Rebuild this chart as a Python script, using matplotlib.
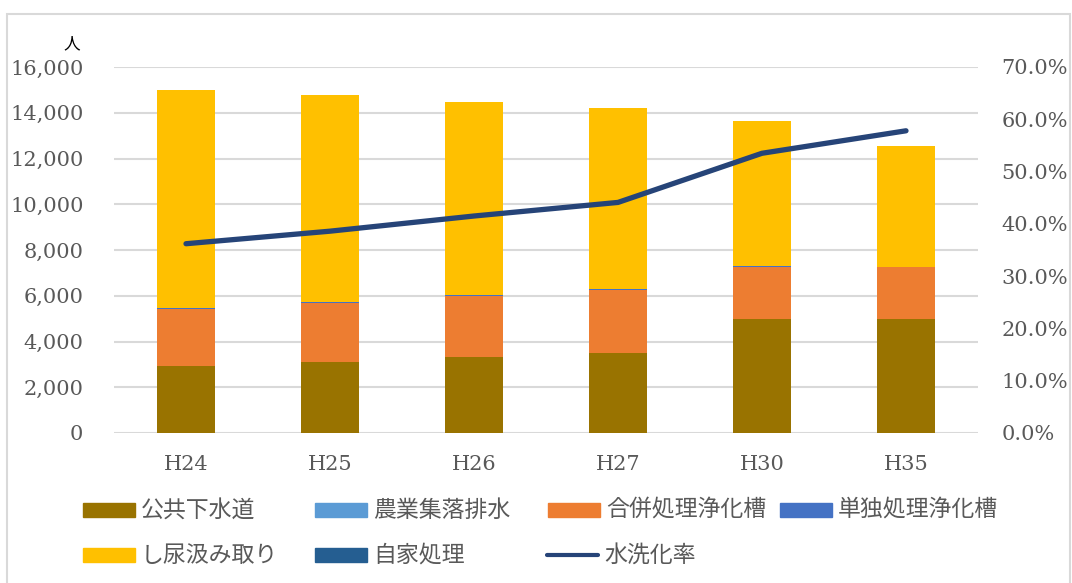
import numpy as np
import matplotlib.pyplot as plt
from matplotlib.patches import Rectangle
from matplotlib.lines import Line2D
from matplotlib.ticker import FuncFormatter

# --- data -------------------------------------------------------------
years = ['H24', 'H25', 'H26', 'H27', 'H30', 'H35']
public_sewer = [2950, 3100, 3320, 3510, 5000, 5000]     # 公共下水道
rural_drain = [0, 0, 0, 0, 0, 0]                        # 農業集落排水
combined_tank = [2470, 2600, 2670, 2740, 2270, 2250]    # 合併処理浄化槽
single_tank = [40, 40, 40, 40, 30, 0]                   # 単独処理浄化槽
night_soil = [9540, 9040, 8440, 7920, 6330, 5300]       # し尿汲み取り
self_treat = [0, 0, 0, 0, 0, 0]                         # 自家処理
flush_rate = [36.2, 38.6, 41.5, 44.1, 53.5, 57.8]       # 水洗化率 (%)

series_names = ['公共下水道', '農業集落排水', '合併処理浄化槽', '単独処理浄化槽',
                'し尿汲み取り', '自家処理']
series_vals = [public_sewer, rural_drain, combined_tank, single_tank,
               night_soil, self_treat]
series_cols = ['#997300', '#5B9BD5', '#ED7D31', '#4472C4', '#FFC000', '#255E91']
line_name = '水洗化率'
line_col = '#264478'

W, H = 1072, 583
grey = '#595959'
cjk = ['Noto Sans CJK JP', 'DejaVu Sans']
num_font = 'DejaVu Serif'

fig = plt.figure(figsize=(W / 100, H / 100), dpi=100)

def fx(px):
    return px / W

def fy(py):
    return 1 - py / H

# outer frame
fig.add_artist(Rectangle((fx(7), fy(595)), fx(1070) - fx(7), fy(14) - fy(595),
                         transform=fig.transFigure, fill=False,
                         edgecolor='#D9D9D9', linewidth=1.5))

ax = fig.add_axes([fx(114), fy(433), fx(978) - fx(114), fy(67) - fy(433)])
ax2 = ax.twinx()

x = np.arange(len(years))
bottom = np.zeros(len(years))
for vals, col in zip(series_vals, series_cols):
    ax.bar(x, vals, width=0.4, bottom=bottom, color=col, zorder=2)
    bottom += np.array(vals)

ax2.plot(x, flush_rate, color=line_col, linewidth=3.8,
         solid_capstyle='round', solid_joinstyle='round', zorder=3)

ax.set_xlim(-0.5, len(years) - 0.5)
ax.set_ylim(0, 16000)
ax.set_yticks(np.arange(0, 16001, 2000))
ax.yaxis.set_major_formatter(FuncFormatter(lambda v, p: f'{int(v):,}'))
ax2.set_ylim(0, 70)
ax2.set_yticks(np.arange(0, 70.1, 10))
ax2.yaxis.set_major_formatter(FuncFormatter(lambda v, p: f'{v:.1f}%'))

ax.set_xticks(x)
ax.set_xticklabels(years)
ax.grid(axis='y', color='#D9D9D9', linewidth=1.5, zorder=0)
ax.set_axisbelow(True)

for a in (ax, ax2):
    for s in a.spines.values():
        s.set_visible(False)
    a.tick_params(length=0, labelsize=15, labelcolor=grey)
    for lab in a.get_xticklabels() + a.get_yticklabels():
        lab.set_fontfamily(num_font)
ax.tick_params(axis='y', pad=22)
ax.tick_params(axis='x', pad=16)
ax2.tick_params(axis='y', pad=17)

fig.text(fx(72), fy(44), '人', family=cjk, fontsize=12, color='#000000',
         ha='center', va='center')

# legend on a fixed 4-column grid, filled row by row
legend_slots = [(83, 510), (315, 510), (548, 510), (780, 510),
                (83, 555), (315, 555)]
for (px, py), name, col in zip(legend_slots, series_names, series_cols):
    fig.add_artist(Rectangle((fx(px), fy(py + 7)), fx(52), 14 / H,
                             transform=fig.transFigure, color=col))
    fig.text(fx(px + 58), fy(py), name, family=cjk, fontsize=16.5,
             color=grey, ha='left', va='center')
fig.add_artist(Line2D([fx(547), fx(598)], [fy(555), fy(555)],
                      transform=fig.transFigure, color=line_col,
                      linewidth=3, solid_capstyle='round'))
fig.text(fx(604), fy(555), line_name, family=cjk, fontsize=16.5,
         color=grey, ha='left', va='center')

fig.savefig('out.png', dpi=100)
